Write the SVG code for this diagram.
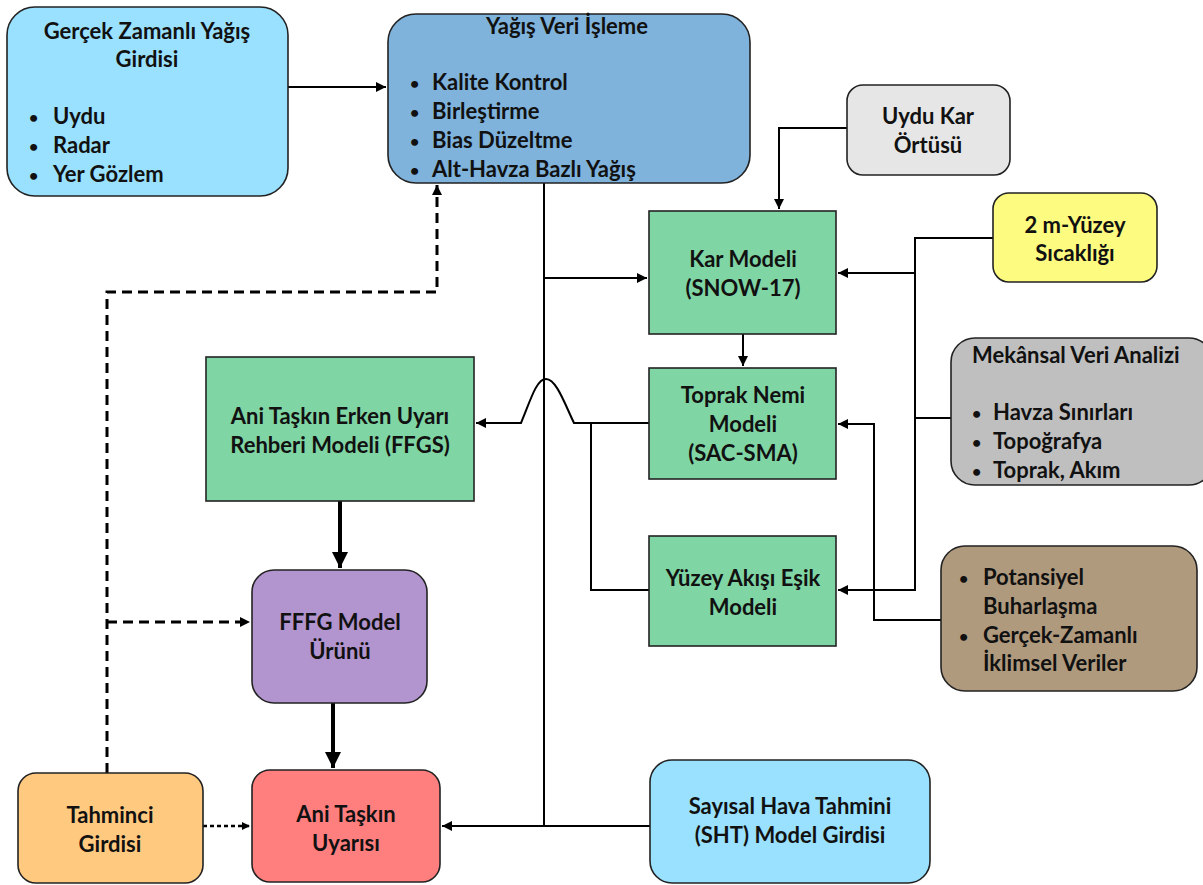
<svg xmlns="http://www.w3.org/2000/svg" width="1203" height="885" viewBox="0 0 1203 885">
<style>
text{font-family:Lato,"Open Sans","Liberation Sans",sans-serif;font-weight:bold;font-size:22px;fill:#111}
.c{text-anchor:middle}
.b{font-size:16px}
.n{stroke:#222;stroke-width:1.6}
.ln{fill:none;stroke:#000;stroke-width:2}
.thick{fill:none;stroke:#000;stroke-width:4}
.dash{fill:none;stroke:#000;stroke-width:3;stroke-dasharray:10 6}
.dot{fill:none;stroke:#000;stroke-width:2.5;stroke-dasharray:4 3}
</style>
<defs>
<marker id="ah" viewBox="0 0 10 10" refX="10" refY="5" markerWidth="5" markerHeight="5" orient="auto" markerUnits="strokeWidth"><path d="M0,0 L10,5 L0,10 z" fill="#000"/></marker>
<marker id="ahs" viewBox="0 0 10 10" refX="10" refY="5" markerWidth="3.4" markerHeight="3.4" orient="auto" markerUnits="strokeWidth"><path d="M0,0 L10,5 L0,10 z" fill="#000"/></marker>
<marker id="aht" viewBox="0 0 10 10" refX="10" refY="5" markerWidth="4" markerHeight="4" orient="auto" markerUnits="strokeWidth"><path d="M0,0 L10,5 L0,10 z" fill="#000"/></marker>
</defs>
<rect width="1203" height="885" fill="#fff"/>
<g id="connectors">
<path class="ln" d="M288,87 H386" marker-end="url(#ah)"/>
<path class="ln" d="M544,183 V826"/>
<path class="ln" d="M544,278 H647" marker-end="url(#ah)"/>
<path class="ln" d="M847,128 H779 V209" marker-end="url(#ah)"/>
<path class="ln" d="M743,334 V366" marker-end="url(#ah)"/>
<path class="ln" d="M993,238 H915 V590 H838" marker-end="url(#ah)"/>
<path class="ln" d="M915,273 H838" marker-end="url(#ah)"/>
<path class="ln" d="M951,418 H915"/>
<path class="ln" d="M941,620 H874 V424 H838" marker-end="url(#ah)"/>
<path class="ln" d="M649,423 H574 C564,402 556,379 546,379 C536,379 530,402 521,423 H476" marker-end="url(#ah)"/>
<path class="ln" d="M649,590 H591 V423"/>
<path class="thick" d="M340,501 V568" marker-end="url(#aht)"/>
<path class="thick" d="M333,703 V768" marker-end="url(#aht)"/>
<path class="ln" d="M650,826 H442" marker-end="url(#ah)"/>
<path class="dot" d="M203,826 H250" marker-end="url(#ahs)"/>
<path class="dash" d="M107,773 V292 H437 V185" marker-end="url(#ahs)"/>
<path class="dash" d="M107,622 H250" marker-end="url(#ahs)"/>
</g>
<g id="n-gercek">
<rect class="n" x="7" y="7" width="281" height="189" rx="28" fill="#99e1ff"/>
<text class="c" x="147" y="39">Gerçek Zamanlı Yağış</text>
<text class="c" x="147" y="67">Girdisi</text>
<text class="b" x="29" y="123">•</text><text x="53" y="124">Uydu</text>
<text class="b" x="29" y="152">•</text><text x="53" y="153">Radar</text>
<text class="b" x="29" y="181">•</text><text x="53" y="182">Yer Gözlem</text>
</g>
<g id="n-yagis">
<rect class="n" x="388" y="14" width="362" height="169" rx="28" fill="#7fb3dc"/>
<text class="c" x="567" y="34">Yağış Veri İşleme</text>
<text class="b" x="410" y="89">•</text><text x="432" y="90">Kalite Kontrol</text>
<text class="b" x="410" y="118">•</text><text x="432" y="119">Birleştirme</text>
<text class="b" x="410" y="147">•</text><text x="432" y="148">Bias Düzeltme</text>
<text class="b" x="410" y="176">•</text><text x="432" y="177">Alt-Havza Bazlı Yağış</text>
</g>
<g id="n-uydukar">
<rect class="n" x="847" y="85" width="163" height="90" rx="16" fill="#e6e6e6"/>
<text class="c" x="928" y="124">Uydu Kar</text>
<text class="c" x="928" y="153">Örtüsü</text>
</g>
<g id="n-kar">
<rect class="n" x="649" y="211" width="187" height="123" fill="#80d5a4"/>
<text class="c" x="743" y="267">Kar Modeli</text>
<text class="c" x="743" y="296">(SNOW-17)</text>
</g>
<g id="n-2m">
<rect class="n" x="993" y="193" width="164" height="89" rx="16" fill="#fdfb80"/>
<text class="c" x="1075" y="233">2 m-Yüzey</text>
<text class="c" x="1075" y="261">Sıcaklığı</text>
</g>
<g id="n-toprak">
<rect class="n" x="649" y="368" width="187" height="111" fill="#80d5a4"/>
<text class="c" x="743" y="403">Toprak Nemi</text>
<text class="c" x="743" y="432">Modeli</text>
<text class="c" x="743" y="461">(SAC-SMA)</text>
</g>
<g id="n-mekansal">
<rect class="n" x="951" y="338" width="262" height="147" rx="24" fill="#bfbfbf"/>
<text x="972" y="363">Mekânsal Veri Analizi</text>
<text class="b" x="972" y="419">•</text><text x="993" y="420">Havza Sınırları</text>
<text class="b" x="972" y="448">•</text><text x="993" y="449">Topoğrafya</text>
<text class="b" x="972" y="477">•</text><text x="993" y="478">Toprak, Akım</text>
</g>
<g id="n-ffgs">
<rect class="n" x="206" y="357" width="268" height="144" fill="#80d5a4"/>
<text class="c" x="340" y="424">Ani Taşkın Erken Uyarı</text>
<text class="c" x="340" y="453">Rehberi Modeli (FFGS)</text>
</g>
<g id="n-yuzey">
<rect class="n" x="649" y="536" width="187" height="110" fill="#80d5a4"/>
<text class="c" x="743" y="586">Yüzey Akışı Eşik</text>
<text class="c" x="743" y="615">Modeli</text>
</g>
<g id="n-potansiyel">
<rect class="n" x="941" y="546" width="256" height="145" rx="24" fill="#b09a7e"/>
<text class="b" x="959" y="584">•</text><text x="983" y="585">Potansiyel</text>
<text x="983" y="614">Buharlaşma</text>
<text class="b" x="959" y="642">•</text><text x="983" y="643">Gerçek-Zamanlı</text>
<text x="983" y="671">İklimsel Veriler</text>
</g>
<g id="n-fffg">
<rect class="n" x="252" y="570" width="175" height="133" rx="22" fill="#b294ce"/>
<text class="c" x="340" y="630">FFFG Model</text>
<text class="c" x="340" y="659">Ürünü</text>
</g>
<g id="n-tahminci">
<rect class="n" x="18" y="773" width="185" height="110" rx="18" fill="#ffc980"/>
<text class="c" x="110" y="823">Tahminci</text>
<text class="c" x="110" y="852">Girdisi</text>
</g>
<g id="n-ani">
<rect class="n" x="252" y="770" width="188" height="112" rx="18" fill="#ff7f7f"/>
<text class="c" x="346" y="822">Ani Taşkın</text>
<text class="c" x="346" y="851">Uyarısı</text>
</g>
<g id="n-sht">
<rect class="n" x="650" y="760" width="280" height="123" rx="22" fill="#99e1ff"/>
<text class="c" x="790" y="814">Sayısal Hava Tahmini</text>
<text class="c" x="790" y="843">(SHT) Model Girdisi</text>
</g>
</svg>
